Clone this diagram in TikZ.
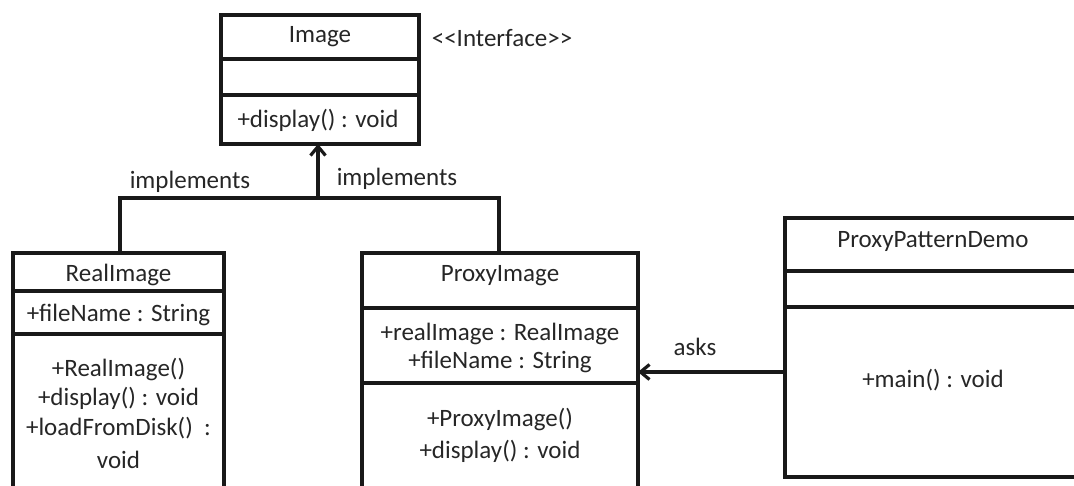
\documentclass[tikz,border=0pt]{standalone}
\usepackage{fontspec}
\setmainfont{Carlito}
\usetikzlibrary{arrows.meta}
\begin{document}
\begin{tikzpicture}[x=1pt,y=-1pt,
  cls/.style={draw=black!90,line width=3.2pt,rectangle,inner sep=0pt,outer sep=0pt},
  sep/.style={draw=black!90,line width=3.2pt},
  txt/.style={font=\fontsize{25}{28}\selectfont,text=black!85,inner sep=0pt,anchor=center},
  conn/.style={draw=black!90,line width=3.2pt},
  tip/.style={-{Straight Barb[length=9pt,width=15pt,line width=3.2pt]}}]
\useasboundingbox (0,0) rectangle (1074,485);
\clip (0,0) rectangle (1074,485);
% Image
\node[cls,minimum width=198pt,minimum height=129pt] (image) at (320,79.5) {};
\draw[sep] (221,59) -- (419,59);
\draw[sep] (221,95) -- (419,95);
\node[txt] (imaget) at (320,37) {Image};
\node[txt] (imaged) at (318,120) {+display()\ : void};
\node[txt] (iface) at (502,38) {<{}<Interface>{}>};
% RealImage
\node[cls,minimum width=211pt,minimum height=260pt] (real) at (118.5,383) {};
\draw[sep] (13,291) -- (224,291);
\draw[sep] (13,334) -- (224,334);
\node[txt] (realt) at (118.5,275) {RealImage};
\node[txt] (reala) at (118.5,315) {+fileName\ : String};
\node[txt] (realm1) at (118.5,369) {+RealImage()};
\node[txt] (realm2) at (118.5,398) {+display()\ : void};
\node[txt] (realm3) at (118.5,428) {+loadFromDisk()\ \ :};
\node[txt] (realm4) at (118.5,460) {void};
% ProxyImage
\node[cls,minimum width=276pt,minimum height=260pt] (proxy) at (500,383) {};
\draw[sep] (362,308) -- (638,308);
\draw[sep] (362,383) -- (638,383);
\node[txt] (proxyt) at (500,276) {ProxyImage};
\node[txt] (proxya1) at (500,334) {+realImage : RealImage};
\node[txt] (proxya2) at (500,362) {+fileName\ : String};
\node[txt] (proxym1) at (500,419) {+ProxyImage()};
\node[txt] (proxym2) at (500,451) {+display()\ : void};
% ProxyPatternDemo
\node[cls,minimum width=300pt,minimum height=259pt] (demo) at (935,347.5) {};
\draw[sep] (785,271) -- (1085,271);
\draw[sep] (785,307) -- (1085,307);
\node[txt] (demot) at (933,241) {ProxyPatternDemo};
\node[txt] (demom) at (933,380) {+main()\ : void};
% connectors
\coordinate (jl) at (120,198);
\coordinate (jm) at (318,198);
\coordinate (jr) at (499,198);
\draw[conn] (real.north -| jl) -- (jl) -- (jr) -- (proxy.north -| jr);
\draw[conn,tip] (jm) -- (image.south -| jm);
\node[txt] (impl1) at (190,182) {implements};
\node[txt] (impl2) at (397,179) {implements};
\draw[conn,tip] (demo.west |- 0,372) -- (proxy.east |- 0,372);
\node[txt] (asks) at (695,347) {asks};
\end{tikzpicture}
\end{document}
